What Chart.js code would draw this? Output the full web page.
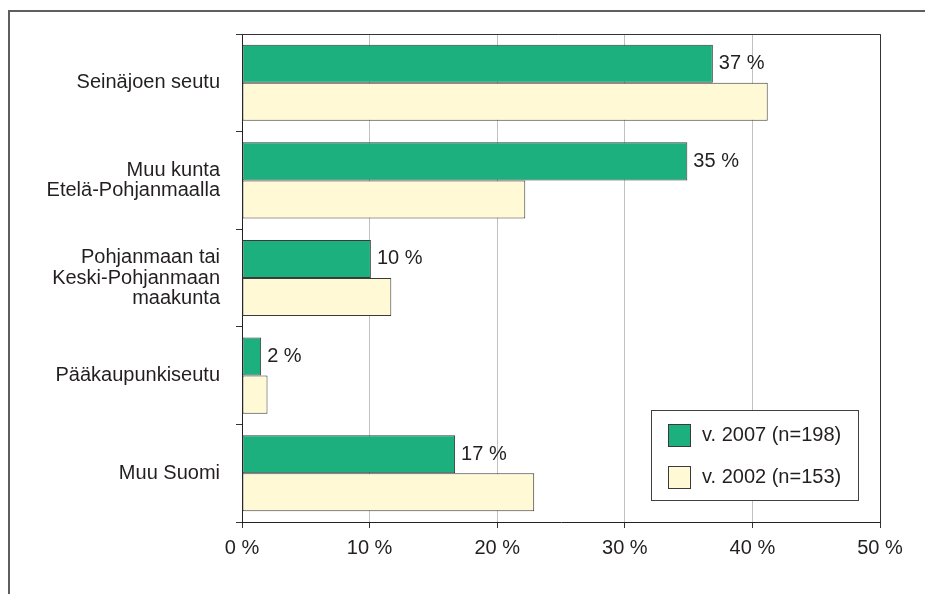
<!DOCTYPE html>
<html>
<head>
<meta charset="utf-8">
<script src="https://cdn.jsdelivr.net/npm/chart.js@4/dist/chart.umd.min.js"></script>
<style>
  html, body { margin: 0; padding: 0; background: #ffffff; }
  #wrap { width: 925px; height: 594px; position: relative; }
</style>
</head>
<body>
<div id="wrap"><canvas id="c" width="925" height="594"></canvas></div>
<script>
const categories = [
  "Seinäjoen seutu",
  ["Muu kunta", "Etelä-Pohjanmaalla"],
  ["Pohjanmaan tai", "Keski-Pohjanmaan", "maakunta"],
  "Pääkaupunkiseutu",
  "Muu Suomi"
];
const seriesNames = ["v. 2007 (n=198)", "v. 2002 (n=153)"];
const values2007 = [36.9, 34.9, 10.1, 1.5, 16.7];
const values2002 = [41.2, 22.2, 11.7, 2.0, 22.9];
const labels2007 = ["37 %", "35 %", "10 %", "2 %", "17 %"];
const xTicks = [0, 10, 20, 30, 40, 50];

const GREEN = "#1cb07e";
const CREAM = "#fff9d5";
const EDGE = "#3a3a3a";
const TEXT = "#231f20";
const FONT = "'Liberation Sans', Arial, sans-serif";

const decorPlugin = {
  id: "decor",
  beforeDraw(chart) {
    const ctx = chart.ctx;
    ctx.save();
    ctx.fillStyle = "#ffffff";
    ctx.fillRect(0, 0, chart.width, chart.height);
    ctx.strokeStyle = "#5e5e5e";
    ctx.lineWidth = 2;
    ctx.strokeRect(9, 11, chart.width + 20, chart.height + 20);
    ctx.restore();
  },
  afterDatasetsDraw(chart) {
    const ctx = chart.ctx;
    const a = chart.chartArea;
    ctx.save();
    ctx.strokeStyle = "#333333";
    ctx.lineWidth = 1;
    ctx.beginPath();
    ctx.moveTo(a.left - 6, Math.round(a.top) + 0.5);
    ctx.lineTo(Math.round(a.right) + 0.5, Math.round(a.top) + 0.5);
    ctx.lineTo(Math.round(a.right) + 0.5, a.bottom);
    ctx.stroke();
    const meta = chart.getDatasetMeta(0);
    ctx.fillStyle = TEXT;
    ctx.font = "20px " + FONT;
    ctx.textAlign = "left";
    ctx.textBaseline = "middle";
    meta.data.forEach((bar, i) => {
      ctx.fillText(labels2007[i], bar.x + 6, bar.y);
    });
    const lx = 651, ly = 410, lw = 207, lh = 90;
    ctx.fillStyle = "#ffffff";
    ctx.fillRect(lx, ly, lw, lh);
    ctx.strokeStyle = "#404040";
    ctx.strokeRect(lx + 0.5, ly + 0.5, lw, lh);
    chart.data.datasets.forEach((ds, i) => {
      const sy = ly + 14 + i * 42;
      ctx.fillStyle = ds.backgroundColor;
      ctx.fillRect(668, sy, 22, 22);
      ctx.strokeStyle = EDGE;
      ctx.strokeRect(668.5, sy + 0.5, 22, 22);
      ctx.fillStyle = TEXT;
      ctx.font = "20px " + FONT;
      ctx.textBaseline = "middle";
      ctx.fillText(ds.label, 702, sy + 11);
    });
    ctx.restore();
  }
};

new Chart(document.getElementById("c"), {
  type: "bar",
  data: {
    labels: categories,
    datasets: [
      { label: seriesNames[0], data: values2007, backgroundColor: GREEN, borderColor: EDGE, borderWidth: 1, borderSkipped: false },
      { label: seriesNames[1], data: values2002, backgroundColor: CREAM, borderColor: EDGE, borderWidth: 1, borderSkipped: false }
    ]
  },
  options: {
    indexAxis: "y",
    responsive: false,
    animation: false,
    devicePixelRatio: 1,
    categoryPercentage: 0.78,
    barPercentage: 1.0,
    layout: { padding: { left: 0, right: 45, top: 34, bottom: 0 } },
    plugins: { legend: { display: false }, tooltip: { enabled: false } },
    scales: {
      x: {
        type: "linear",
        min: 0,
        max: 50,
        afterBuildTicks(scale) { scale.ticks = xTicks.map(v => ({ value: v })); },
        afterFit(scale) { scale.height = 72; },
        ticks: {
          callback: v => v + " %",
          color: TEXT,
          font: { family: FONT, size: 20 },
          padding: 8,
          maxRotation: 0
        },
        grid: { color: "#c0c0c0", lineWidth: 1, tickColor: "#333333", tickLength: 6 },
        border: { color: "#222222", width: 1 }
      },
      y: {
        afterFit(scale) { scale.width = 242; },
        ticks: {
          color: TEXT,
          font: { family: FONT, size: 20, lineHeight: 1.02 },
          padding: 16
        },
        grid: { drawOnChartArea: false, offset: true, tickColor: "#333333", tickLength: 6 },
        border: { color: "#222222", width: 1 }
      }
    }
  },
  plugins: [decorPlugin]
});
</script>
</body>
</html>
